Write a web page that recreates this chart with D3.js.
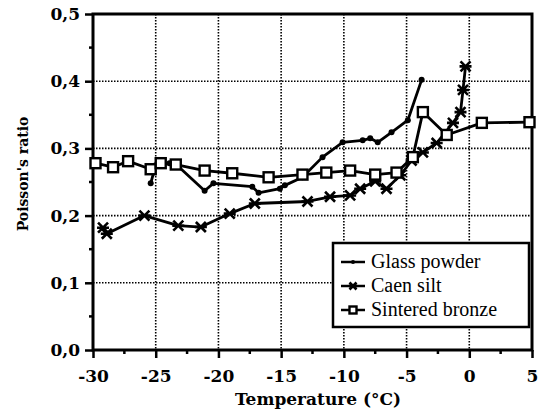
<!DOCTYPE html>
<html>
<head>
<meta charset="utf-8">
<script src="https://cdn.jsdelivr.net/npm/d3@7"></script>
<style>
  body { margin: 0; background: #fff; }
  svg text { font-family: "Liberation Serif", "Times New Roman", serif; fill: #000; }
</style>
</head>
<body>
<div id="chart"></div>
<script>
// Poisson's ratio vs temperature
var svgWidth = 546;
var svgHeight = 418;
var margin = {top: 14, right: 14, bottom: 68, left: 93};
var width = 532 - margin.left;
var height = 350 - margin.top;

// data
var glassT = [-25.4, -25.0, -23.9, -23.3, -21.1, -20.4, -17.3, -16.8, -15.1, -14.7, -13.3, -11.7, -10.1, -8.5, -7.9, -7.3, -6.2, -4.9, -3.8];
var glassV = [0.248, 0.275, 0.278, 0.275, 0.237, 0.248, 0.243, 0.234, 0.240, 0.245, 0.257, 0.287, 0.309, 0.312, 0.315, 0.309, 0.324, 0.342, 0.402];

var siltT = [-29.2, -28.9, -25.9, -23.2, -21.4, -19.1, -17.1, -12.9, -11.1, -9.5, -8.7, -7.5, -6.6, -5.5, -4.6, -3.7, -2.6, -1.3, -0.7, -0.5, -0.3];
var siltV = [0.182, 0.173, 0.200, 0.185, 0.183, 0.203, 0.218, 0.221, 0.228, 0.230, 0.240, 0.251, 0.240, 0.260, 0.282, 0.294, 0.308, 0.338, 0.354, 0.387, 0.422];

var bronzeT = [-29.8, -28.4, -27.2, -25.4, -24.6, -23.4, -21.1, -18.9, -16.0, -13.3, -11.4, -9.5, -7.5, -5.8, -4.5, -3.7, -1.8, 1.0, 4.8];
var bronzeV = [0.278, 0.272, 0.281, 0.269, 0.278, 0.276, 0.267, 0.263, 0.257, 0.261, 0.264, 0.267, 0.261, 0.264, 0.287, 0.354, 0.320, 0.338, 0.339];

var xTicks = [-30, -25, -20, -15, -10, -5, 0, 5];
var yTicks = [0, 0.1, 0.2, 0.3, 0.4, 0.5];
var seriesNames = ["Glass powder", "Caen silt", "Sintered bronze"];

function zip(t, v) { return t.map(function(d, i) { return {t: d, v: v[i]}; }); }
var series = [zip(glassT, glassV), zip(siltT, siltV), zip(bronzeT, bronzeV)];

// SVG
var svg = d3.select("#chart")
  .append("svg")
  .attr("width", svgWidth)
  .attr("height", svgHeight);
var chartGroup = svg.append("g")
  .attr("transform", `translate(${margin.left}, ${margin.top})`);

// scales
var x = d3.scaleLinear().domain([-30, 5]).range([0, width]);
var y = d3.scaleLinear().domain([0, 0.5]).range([height, 0]);

// grid (dotted)
chartGroup.append("g").selectAll("line.vg")
  .data(xTicks.slice(1, -1))
  .enter().append("line")
  .attr("x1", d => x(d)).attr("x2", d => x(d))
  .attr("y1", 0).attr("y2", height)
  .attr("stroke", "#000").attr("stroke-width", 1.6)
  .attr("stroke-dasharray", "1.5,1.5");
chartGroup.append("g").selectAll("line.hg")
  .data(yTicks.slice(1, -1))
  .enter().append("line")
  .attr("x1", 0).attr("x2", width)
  .attr("y1", d => y(d)).attr("y2", d => y(d))
  .attr("stroke", "#000").attr("stroke-width", 1.6)
  .attr("stroke-dasharray", "1.5,1.5");

// minor ticks
chartGroup.append("g").selectAll("line")
  .data(d3.range(-27.5, 5, 5))
  .enter().append("line")
  .attr("x1", d => x(d)).attr("x2", d => x(d))
  .attr("y1", height).attr("y2", height + 4)
  .attr("stroke", "#000").attr("stroke-width", 2.5);
chartGroup.append("g").selectAll("line")
  .data(d3.range(0.05, 0.5, 0.1))
  .enter().append("line")
  .attr("x1", -4).attr("x2", 0)
  .attr("y1", d => y(d)).attr("y2", d => y(d))
  .attr("stroke", "#000").attr("stroke-width", 2.5);

// axes
var bottomAxis = d3.axisBottom(x).tickValues(xTicks).tickSize(8).tickPadding(12)
  .tickFormat(d => String(d));
var leftAxis = d3.axisLeft(y).tickValues(yTicks).tickSize(8).tickPadding(5)
  .tickFormat(d => d3.format(".1f")(d).replace(".", ","));
var xAxisG = chartGroup.append("g")
  .attr("transform", `translate(0, ${height})`)
  .call(bottomAxis);
var yAxisG = chartGroup.append("g")
  .call(leftAxis);
[xAxisG, yAxisG].forEach(function(g) {
  g.attr("font-family", null).attr("font-size", null);
  g.select(".domain").remove();
  g.selectAll("line").attr("stroke", "#000").attr("stroke-width", 2.5);
  g.selectAll("text")
    .style("font-family", "'DejaVu Serif', serif")
    .style("font-weight", "bold")
    .style("font-size", "17px")
    .attr("fill", "#000");
});

// frame
chartGroup.append("rect")
  .attr("x", 0).attr("y", 0)
  .attr("width", width).attr("height", height)
  .attr("fill", "none").attr("stroke", "#000").attr("stroke-width", 3);

// lines
var line = d3.line().x(d => x(d.t)).y(d => y(d.v));
chartGroup.selectAll("path.series")
  .data(series)
  .enter().append("path")
  .attr("class", "series")
  .attr("d", line)
  .attr("fill", "none")
  .attr("stroke", "#000")
  .attr("stroke-width", 2.8)
  .attr("stroke-linejoin", "round");

// markers
function drawMarker(g, kind, s) {
  s = s || 1;
  if (kind === 0) {
    g.append("circle").attr("r", 3 * s).attr("fill", "#000");
  } else if (kind === 1) {
    g.append("path")
      .attr("d", `M${-5*s},${-5*s}L${5*s},${5*s}M${-5*s},${5*s}L${5*s},${-5*s}M${-6*s},0L${6*s},0`)
      .attr("stroke", "#000").attr("stroke-width", 2.6).attr("fill", "none");
  } else {
    g.append("rect").attr("x", -5 * s).attr("y", -5 * s).attr("width", 10 * s).attr("height", 10 * s)
      .attr("fill", "#fff").attr("stroke", "#000").attr("stroke-width", 2.4);
  }
}
series.forEach(function(s, k) {
  chartGroup.append("g").selectAll("g")
    .data(s)
    .enter().append("g")
    .attr("transform", d => `translate(${x(d.t)}, ${y(d.v)})`)
    .each(function() { drawMarker(d3.select(this), k); });
});

// legend
var legend = svg.append("g").attr("transform", "translate(333, 243)");
legend.append("rect")
  .attr("width", 196).attr("height", 84)
  .attr("fill", "#fff").attr("stroke", "#000").attr("stroke-width", 2.5);
seriesNames.forEach(function(name, i) {
  var row = legend.append("g").attr("transform", `translate(0, ${19 + i * 24})`);
  row.append("line").attr("x1", 8).attr("x2", 32)
    .attr("stroke", "#000").attr("stroke-width", 2.5);
  var m = row.append("g").attr("transform", "translate(20, 0)");
  drawMarker(m, i, 0.7);
  row.append("text")
    .attr("x", 38).attr("y", 6)
    .style("font-size", "20px")
    .text(name);
});

// axes labels
svg.append("text")
  .attr("transform", "translate(28, 174) rotate(-90)")
  .attr("text-anchor", "middle")
  .style("font-family", "'DejaVu Serif', serif")
  .style("font-size", "14px")
  .style("font-weight", "bold")
  .text("Poisson's ratio");
svg.append("text")
  .attr("x", 318).attr("y", 405)
  .attr("text-anchor", "middle")
  .style("font-family", "'DejaVu Serif', serif")
  .style("font-size", "17px")
  .style("font-weight", "bold")
  .text("Temperature (°C)");
</script>
</body>
</html>
